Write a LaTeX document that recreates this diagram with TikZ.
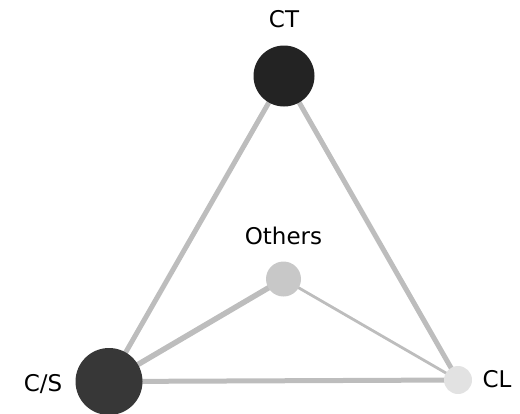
\documentclass[tikz,border=0pt]{standalone}
\usepackage{fontspec}
\setmainfont{DejaVu Sans}
\definecolor{edgegray}{HTML}{BDBDBD}
\definecolor{ctcol}{HTML}{232323}
\definecolor{cscol}{HTML}{373737}
\definecolor{othcol}{HTML}{C8C8C8}
\definecolor{clcol}{HTML}{E2E2E2}
\begin{document}
\begin{tikzpicture}[x=1pt,y=-1pt,
  dot/.style={circle,inner sep=0pt,draw=none},
  lbl/.style={anchor=base,inner sep=0pt,font=\fontsize{23}{23}\selectfont,text=black},
  edge/.style={draw=edgegray,line cap=butt}]
\useasboundingbox (0,0) rectangle (520,413);
\clip (0,0) rectangle (520,413);
\coordinate (ctc) at (284,76);
\coordinate (csc) at (109,381.5);
\coordinate (othc) at (283.5,279);
\coordinate (clc) at (458,380);
% edges
\draw[edge,line width=5pt] (ctc) -- (csc);
\draw[edge,line width=5pt] (ctc) -- (clc);
\draw[edge,line width=5pt] (csc) -- (clc);
\draw[edge,line width=5.5pt] (csc) -- (othc);
\draw[edge,line width=2.8pt] (othc) -- (clc);
% nodes
\node[dot,fill=ctcol,minimum size=61pt] (ct) at (ctc) {};
\node[dot,fill=cscol,minimum size=67pt] (cs) at (csc) {};
\node[dot,fill=othcol,minimum size=35pt] (oth) at (othc) {};
\node[dot,fill=clcol,minimum size=28pt] (cl) at (clc) {};
% labels
\node[lbl] (ctl) at (284,27) {CT};
\node[lbl] (othl) at (283.5,244) {Others};
\node[lbl] (csl) at (43,391.5) {C/S};
\node[lbl] (cll) at (497,387) {CL};
\end{tikzpicture}
\end{document}
